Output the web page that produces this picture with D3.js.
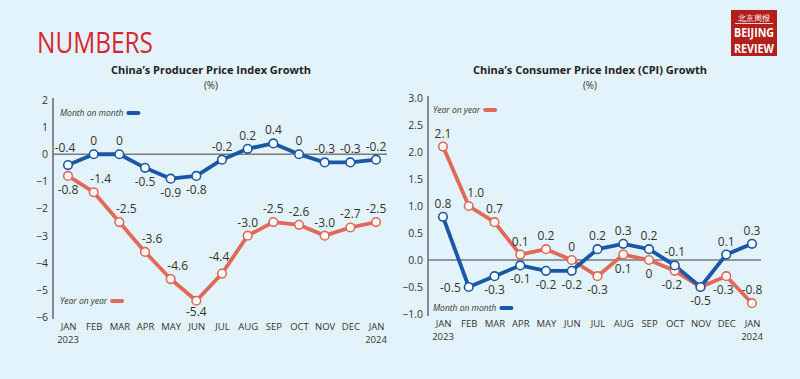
<!DOCTYPE html>
<html><head><meta charset="utf-8">
<script src="https://cdn.jsdelivr.net/npm/d3@7"></script>
<style>
html,body{margin:0;padding:0;background:#e3f3fb;}
svg{display:block;}
text{font-family:"Open Sans",sans-serif;}
</style></head>
<body>
<svg id="c" width="800" height="379"></svg>
<script>
// ---- data ----
const months = ["JAN","FEB","MAR","APR","MAY","JUN","JUL","AUG","SEP","OCT","NOV","DEC","JAN"];
const years  = ["2023","","","","","","","","","","","","2024"];
const ppiMoM = [-0.4,0,0,-0.5,-0.9,-0.8,-0.2,0.2,0.4,0,-0.3,-0.3,-0.2];
const ppiYoY = [-0.8,-1.4,-2.5,-3.6,-4.6,-5.4,-4.4,-3.0,-2.5,-2.6,-3.0,-2.7,-2.5];
const cpiYoY = [2.1,1.0,0.7,0.1,0.2,0,-0.3,0.1,0,-0.2,-0.5,-0.3,-0.8];
const cpiMoM = [0.8,-0.5,-0.3,-0.1,-0.2,-0.2,0.2,0.3,0.2,-0.1,-0.5,0.1,0.3];
const ppiTicks = [2,1,0,-1,-2,-3,-4,-5,-6];
const cpiTicks = [3.0,2.5,2.0,1.5,1.0,0.5,0,-0.5,-1.0];

// label placement (style config)
const ppiMoMSide = ["al","a","a","b","b","b","a","a","a","a","a","a","a"];
const ppiYoYSide = ["b","ar","ar","ar","ar","b","al","a","a","a","a","a","a"];
const cpiYoYSide = ["a","ar","a","a","a","a","b","b","b","bl","n","bl","a"];
const cpiMoMSide = ["a","l","b","b","b","b","a","a","a","a","b","a","a"];

const BLUE = "#1a58a6", RED = "#e0695a", TXT = "#333";
const svg = d3.select("#c");

// header
svg.append("text").attr("x",37).attr("y",53).attr("fill","#d8252f")
  .attr("font-family","'Liberation Sans Narrow','DejaVu Sans Condensed',sans-serif")
  .attr("font-size",30).attr("textLength",116).attr("lengthAdjust","spacingAndGlyphs").text("NUMBERS");

// logo
const lg = svg.append("g");
lg.append("rect").attr("x",731).attr("y",10).attr("width",46).attr("height",46).attr("fill","#b41f1c");
lg.append("text").attr("x",754).attr("y",20.5).attr("text-anchor","middle").attr("fill","#fff")
  .attr("font-family","'Noto Sans CJK SC'").attr("font-size",8).text("北京周报");
lg.append("line").attr("x1",735).attr("x2",773).attr("y1",23.5).attr("y2",23.5).attr("stroke","#fff").attr("stroke-width",0.8);
lg.append("text").attr("x",754).attr("y",37).attr("text-anchor","middle").attr("fill","#fff")
  .attr("font-family","'Liberation Sans Narrow','DejaVu Sans Condensed'").attr("font-weight","bold")
  .attr("font-size",12).attr("textLength",40).attr("lengthAdjust","spacingAndGlyphs").text("BEIJING");
lg.append("text").attr("x",754).attr("y",53).attr("text-anchor","middle").attr("fill","#fff")
  .attr("font-family","'Liberation Sans Narrow','DejaVu Sans Condensed'").attr("font-weight","bold")
  .attr("font-size",12).attr("textLength",40).attr("lengthAdjust","spacingAndGlyphs").text("REVIEW");

function fmt(v){ return v===0 ? "0" : v.toFixed(1); }

function chart(cfg){
  const g = svg.append("g");
  const x = d3.scalePoint().domain(d3.range(months.length)).range([cfg.x0,cfg.x1]);
  const y = d3.scaleLinear().domain(cfg.domain).range([cfg.y0,cfg.y1]);

  g.append("text").attr("x",cfg.cx).attr("y",74).attr("text-anchor","middle").attr("font-weight","bold")
    .attr("font-size",11).attr("fill","#222").text(cfg.title);
  g.append("text").attr("x",cfg.cx).attr("y",89).attr("text-anchor","middle")
    .attr("font-size",10).attr("fill","#333").text("(%)");

  // y axis
  const ax = g.append("g").attr("transform",`translate(${cfg.ax},0)`)
    .call(d3.axisLeft(y).tickValues(cfg.ticks).tickSize(0).tickPadding(cfg.pad).tickFormat(cfg.tf));
  ax.select(".domain").attr("stroke","#444").attr("stroke-width",1.2)
    .attr("d",`M0,${y(cfg.domain[1])-2}V${y(cfg.domain[0])+2}`);
  ax.selectAll("text").attr("font-size",10.5).attr("fill",TXT).attr("font-family","'Open Sans',sans-serif");

  // zero line
  g.append("line").attr("x1",cfg.ax).attr("x2",cfg.zx).attr("y1",y(0)).attr("y2",y(0))
    .attr("stroke","#7a7a7a").attr("stroke-width",1.5);

  // x axis labels
  const xa = g.append("g").attr("transform",`translate(0,${cfg.y0})`)
    .call(d3.axisBottom(x).tickSize(0).tickPadding(0).tickFormat(i=>months[i]));
  xa.select(".domain").remove();
  xa.selectAll("text").attr("dy",null).attr("y",13).attr("font-size",9.5).attr("fill",TXT)
    .attr("font-family","'Open Sans',sans-serif");
  g.selectAll(".yr").data(years.map((t,i)=>({t,i})).filter(d=>d.t)).join("text")
    .attr("x",d=>x(d.i)).attr("y",cfg.y0+26)
    .attr("text-anchor","middle").attr("font-size",9.5).attr("fill",TXT).text(d=>d.t);

  const line = d3.line().x((d,i)=>x(i)).y(d=>y(d));
  cfg.series.forEach(s=>{
    g.append("path").attr("d",line(s.values)).attr("fill","none").attr("stroke",s.color)
      .attr("stroke-width",3.8).attr("stroke-linejoin","round");
  });
  cfg.series.forEach(s=>{
    const pts = s.values.map((v,i)=>({v,i,side:s.side[i]}));
    g.selectAll(null).data(pts).join("circle").attr("cx",d=>x(d.i)).attr("cy",d=>y(d.v))
      .attr("r",4.3).attr("fill","#fff").attr("stroke",s.color).attr("stroke-width",1.6);
    g.selectAll(null).data(pts.filter(d=>d.side!=="n")).join("text")
      .attr("x",d=>x(d.i)+(d.side.includes("r")?7:d.side.includes("l")?(d.side==="l"?-8:-3):0))
      .attr("y",d=>Math.min(cfg.y0-1, y(d.v)+(d.side[0]==="a"?(d.side==="al"?-13:-9):d.side[0]==="b"?18:5)))
      .attr("text-anchor",d=>d.side==="l"?"end":"middle")
      .attr("font-size",12).attr("fill",TXT).text(d=>fmt(d.v));
  });

  cfg.legends.forEach(l=>{
    const t = g.append("text").attr("x",l.x).attr("y",l.y).attr("font-style","italic").attr("font-size",8.5)
      .attr("fill","#333").text(l.text);
    const w = t.node().getComputedTextLength();
    g.append("line").attr("x1",l.x+w+5).attr("x2",l.x+w+15).attr("y1",l.y-3).attr("y2",l.y-3)
      .attr("stroke",l.color).attr("stroke-width",4).attr("stroke-linecap","round");
  });
}

chart({title:"China’s Producer Price Index Growth", cx:211, x0:68, x1:376, y0:317, y1:100,
  domain:[-6,2], ticks:ppiTicks, tf:d3.format("d"), ax:53, zx:387, pad:5,
  series:[{values:ppiYoY,color:RED,side:ppiYoYSide},{values:ppiMoM,color:BLUE,side:ppiMoMSide}],
  legends:[{text:"Month on month",x:60,y:116,color:BLUE},{text:"Year on year",x:60,y:304,color:RED}]});

chart({title:"China’s Consumer Price Index (CPI) Growth", cx:590, x0:443, x1:752, y0:314, y1:98,
  domain:[-1,3], ticks:cpiTicks, tf:d3.format(".1f"), ax:428, zx:761, pad:5,
  series:[{values:cpiYoY,color:RED,side:cpiYoYSide},{values:cpiMoM,color:BLUE,side:cpiMoMSide}],
  legends:[{text:"Year on year",x:433,y:113,color:RED},{text:"Month on month",x:433,y:311,color:BLUE}]});
</script>
</body></html>
